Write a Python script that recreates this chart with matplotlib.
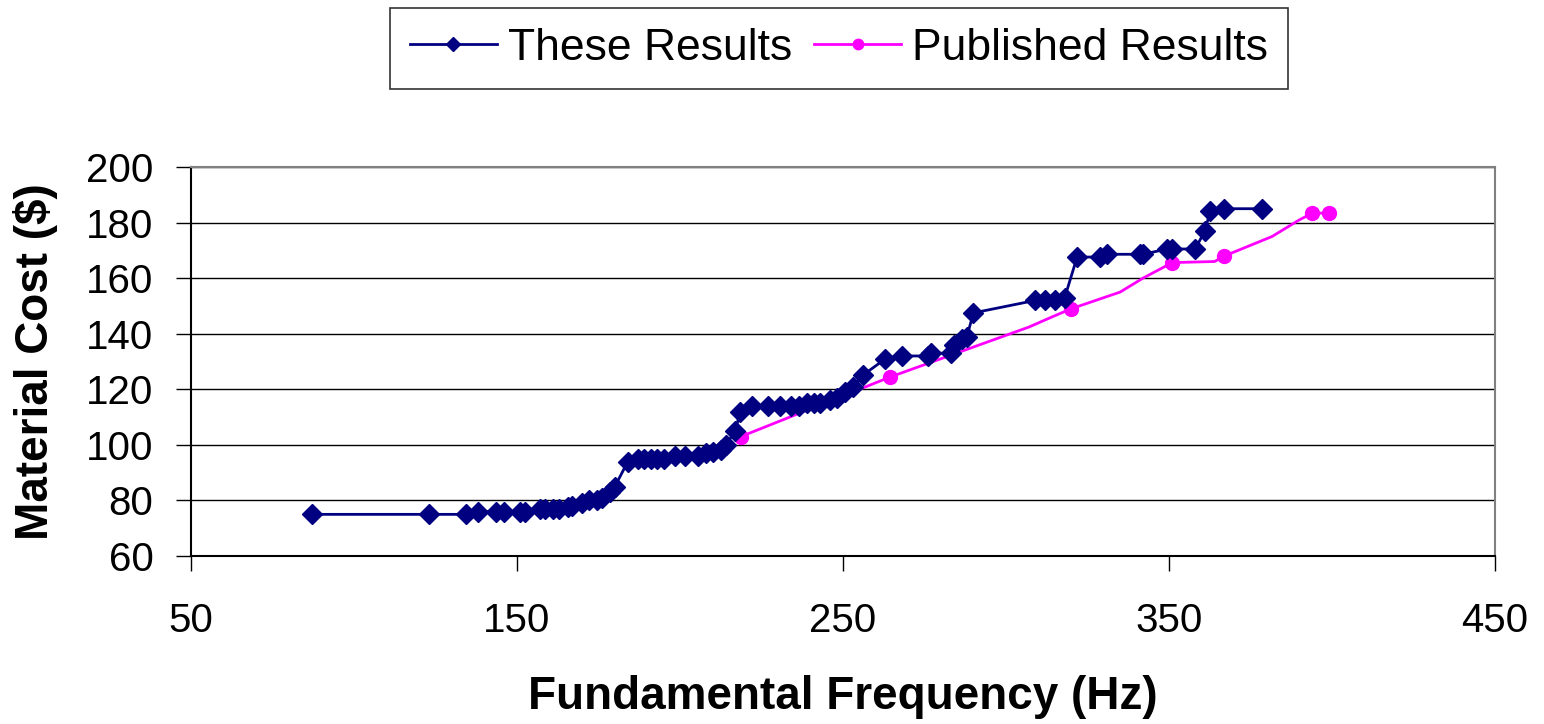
import matplotlib.pyplot as plt

plt.rcParams['font.family'] = ['Liberation Sans', 'DejaVu Sans']

# These Results (blue diamonds)
freq_these = [87, 123, 134.5, 138, 143.5, 146, 151, 152.5, 157, 158.6, 161, 163, 165.5,
              167, 170, 172, 174.5, 176, 178.5, 180, 184, 187, 189, 191, 193, 195, 198.5,
              201.5, 205.5, 208, 210, 212.5, 214, 217, 218.4, 222, 227, 230.7, 234, 236.5,
              239, 241, 243, 246, 248, 250.6, 253, 256, 263, 268, 276, 277, 283, 284,
              286.5, 288, 290, 309, 312, 315, 318, 321.8, 328.8, 331, 341, 342, 349.4,
              351, 358, 361, 362.6, 367, 378.5]
cost_these = [75, 75, 75, 76, 76, 76, 76, 76, 77, 77, 77, 77, 77.5,
              78, 79, 80, 80, 81, 83, 85, 94, 95, 95, 95, 95, 95, 96,
              96, 96, 97, 97.5, 98, 100, 105, 112, 114, 114, 114, 114, 114,
              115, 115, 115, 116, 117, 119, 121, 125, 131, 132, 132, 133, 133, 136,
              138, 139, 147.5, 152, 152, 152, 153, 167.6, 167.6, 168.6, 168.6, 168.6, 170.5,
              170.5, 170.5, 177, 184, 185, 185]

# Published Results (magenta circles, line has extra vertices)
freq_pub = [218.7, 264.4, 307, 314, 320, 335, 342, 351, 364, 367, 381.6, 390, 394, 399]
cost_pub = [103, 124.4, 142.4, 146, 149, 155, 160, 165.6, 166, 168, 175, 181, 183.4, 183.4]
pub_marked = [0, 1, 4, 7, 9, 12, 13]

fig = plt.figure(figsize=(15.44, 7.24), dpi=100)
ax = fig.add_axes([0.1237, 0.232, 0.8446, 0.5373])

ax.plot(freq_these, cost_these, color='#000080', marker='D', markersize=10, linewidth=2,
        label='These Results', zorder=3)
ax.plot(freq_pub, cost_pub, color='#FF00FF', marker='o', markersize=10, linewidth=2,
        markevery=pub_marked, label='Published Results', zorder=2)

ax.set_xlim(50, 450)
ax.set_ylim(60, 200)
ax.set_xticks([50, 150, 250, 350, 450])
ax.set_yticks(range(60, 201, 20))
ax.yaxis.grid(True, color='black', linewidth=1)
ax.set_axisbelow(True)
for s in ax.spines.values():
    s.set_color('#808080')
    s.set_linewidth(1.5)
ax.spines['left'].set_color('black')
ax.spines['bottom'].set_color('black')
ax.tick_params(axis='both', labelsize=29, length=11, width=1, direction='out')
ax.tick_params(axis='x', pad=22)
ax.tick_params(axis='y', pad=16)

ax.set_xlabel('Fundamental Frequency (Hz)', fontsize=33, fontweight='bold')
ax.set_ylabel('Material Cost ($)', fontsize=33, fontweight='bold')
ax.xaxis.set_label_coords(0.5, -0.305)
ax.yaxis.set_label_coords(-0.102, 0.5)

leg = fig.legend(loc='center', bbox_to_anchor=(0.5434, 0.9337), ncol=2, fontsize=32,
                 frameon=True, fancybox=False, edgecolor='black', handlelength=1.95,
                 columnspacing=0.5, handletextpad=0.25, borderpad=0.45, markerscale=0.75)
leg.get_frame().set_linewidth(1.2)

fig.savefig('out.png', dpi=100)
